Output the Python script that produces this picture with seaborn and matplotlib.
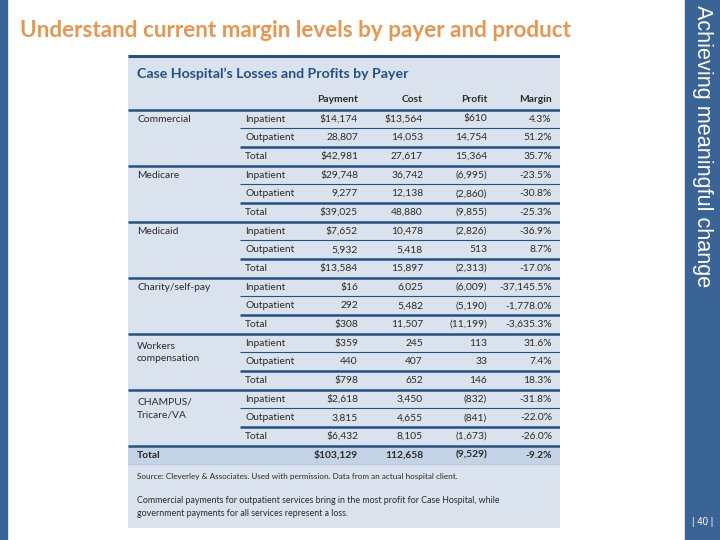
import matplotlib.pyplot as plt
import seaborn as sns
import pandas as pd

# -----------------------------
# Table data
# -----------------------------
payers = ["Commercial", "Medicare", "Medicaid", "Charity/self-pay",
          "Workers\ncompensation", "CHAMPUS/\nTricare/VA"]
products = ["Inpatient", "Outpatient", "Total"]

payment = [14174, 28807, 42981, 29748, 9277, 39025, 7652, 5932, 13584,
           16, 292, 308, 359, 440, 798, 2618, 3815, 6432]
cost = [13564, 14053, 27617, 36742, 12138, 48880, 10478, 5418, 15897,
        6025, 5482, 11507, 245, 407, 652, 3450, 4655, 8105]
profit = [610, 14754, 15364, -6995, -2860, -9855, -2826, 513, -2313,
          -6009, -5190, -11199, 113, 33, 146, -832, -841, -1673]
margin = [4.3, 51.2, 35.7, -23.5, -30.8, -25.3, -36.9, 8.7, -17.0,
          -37145.5, -1778.0, -3635.3, 31.6, 7.4, 18.3, -31.8, -22.0, -26.0]

total_values = [103129, 112658, -9529, -9.2]

columns = ["Payment", "Cost", "Profit", "Margin"]

df = pd.DataFrame({
    "payer": [p for p in payers for _ in products],
    "product": products * len(payers),
    "Payment": payment,
    "Cost": cost,
    "Profit": profit,
    "Margin": margin,
})


def fmt_money(v, dollar=False):
    s = f"{abs(v):,}"
    if v < 0:
        return f"({s})"
    return ("$" if dollar else "") + s


def fmt_pct(v):
    return f"{v:,.1f}%"


# -----------------------------
# Figure / slide frame
# -----------------------------
sns.set_theme(style="white")
plt.rcParams["font.family"] = ["Lato", "DejaVu Sans"]

W, H = 720, 540
fig = plt.figure(figsize=(7.2, 5.4), dpi=100)
fig.patch.set_facecolor("white")

slide_blue = "#3a6396"
fig.patches.append(plt.Rectangle((0, 0), 7 / W, 1, transform=fig.transFigure,
                                 color=slide_blue, zorder=0))
fig.patches.append(plt.Rectangle((685 / W, 0), 35 / W, 1, transform=fig.transFigure,
                                 color=slide_blue, zorder=0))

fig.text(20 / W, 1 - 31 / H, "Understand current margin levels by payer and product",
         color="#e8964f", fontsize=16.2, fontweight="bold", va="center", ha="left")
fig.text(703 / W, 1 - 5 / H, "Achieving meaningful change", rotation=-90,
         color="white", fontsize=15.6, family="Liberation Sans", va="top", ha="center")
fig.text(703 / W, 1 - 522 / H, "| 40 |", color="white", fontsize=7,
         family="Liberation Sans", va="center", ha="center")

# -----------------------------
# Table panel (pixel-like data coords)
# -----------------------------
x0, x1, y0, y1 = 128, 560, 55, 528
ax = fig.add_axes([x0 / W, 1 - y1 / H, (x1 - x0) / W, (y1 - y0) / H])
ax.set_xlim(x0, x1)
ax.set_ylim(y1, y0)
ax.set_facecolor("#dae2ee")
ax.set_xticks([])
ax.set_yticks([])
sns.despine(ax=ax, left=True, bottom=True)

dark = "#235085"
txt = "#2b2b2b"
fs = 7.4

row0, row_h = 119, 18.67
payer_x, prod_x = 137, 245
col_right = [358, 423, 487, 552]

ax.text(137, 74, "Case Hospital\u2019s Losses and Profits by Payer", color=dark,
        fontsize=10.2, fontweight="bold", va="center", ha="left")
for c, xr in zip(columns, col_right):
    ax.text(xr, 100, c, fontsize=fs, fontweight="bold", color=txt, va="center", ha="right")

ax.hlines(56, x0, x1, color=dark, lw=2.2)
ax.hlines(row0 - row_h / 2, x0, x1, color=dark, lw=1.8)

for i, r in df.iterrows():
    y = row0 + i * row_h
    k = i % 3
    if k == 0:
        payer_y = y if "\n" not in r["payer"] else y + row_h / 2
        ax.text(payer_x, payer_y, r["payer"], fontsize=fs, color=txt,
                va="center", ha="left", linespacing=1.5)
    ax.text(prod_x, y, r["product"], fontsize=fs, color=txt, va="center", ha="left")
    cells = [fmt_money(r["Payment"], dollar=(k != 1)),
             fmt_money(r["Cost"], dollar=(i == 0)),
             fmt_money(r["Profit"], dollar=(i == 0)),
             fmt_pct(r["Margin"])]
    for s, xr in zip(cells, col_right):
        ax.text(xr, y, s, fontsize=fs, color=txt, va="center", ha="right")
    yb = y + row_h / 2
    if k == 0:
        ax.hlines(yb, 240, x1, color=dark, lw=0.8)
    elif k == 1:
        ax.hlines(yb, 240, x1, color=dark, lw=1.8)
    else:
        ax.hlines(yb, x0, x1, color=dark, lw=1.8)

# grand total row
yt = row0 + len(df) * row_h
ax.axhspan(yt - row_h / 2 + 1, yt + row_h / 2, color="#c4d2e5", zorder=0)
ax.text(payer_x, yt, "Total", fontsize=fs, fontweight="bold", color=txt, va="center", ha="left")
tot_cells = [fmt_money(total_values[0], dollar=True), fmt_money(total_values[1]),
             fmt_money(total_values[2]), fmt_pct(total_values[3])]
for s, xr in zip(tot_cells, col_right):
    ax.text(xr, yt, s, fontsize=fs, fontweight="bold", color=txt, va="center", ha="right")
ax.hlines(yt + row_h / 2, x0, x1, color="#b5c4d8", lw=0.6)

ax.text(137, 476, "Source: Cleverley & Associates. Used with permission. Data from an actual hospital client.",
        fontsize=5.9, color=txt, va="center", ha="left")
ax.text(137, 507, "Commercial payments for outpatient services bring in the most profit for Case Hospital, while\n"
        "government payments for all services represent a loss.",
        fontsize=6.4, color=txt, va="center", ha="left", linespacing=1.7)

fig.savefig("out.png", dpi=100)
